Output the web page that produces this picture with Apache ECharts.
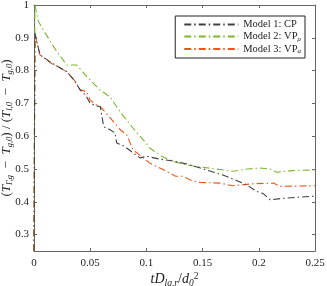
<!DOCTYPE html>
<html><head><meta charset="utf-8">
<script src="https://cdn.jsdelivr.net/npm/echarts@6/dist/echarts.min.js"></script>
<style>html,body{margin:0;padding:0;background:#fff}#c{width:327px;height:286px}</style>
</head><body><div id="c"></div>
<script>
const seriesNames = ['Model 1: CP', 'Model 2: VP', 'Model 3: VP'];
const model1 = [[0,0.25],[0.0008,0.915],[0.0053,0.848],[0.015,0.825],[0.029,0.797],[0.036,0.77],[0.041,0.741],[0.046,0.725],[0.05,0.70],[0.055,0.693],[0.059,0.69],[0.062,0.629],[0.068,0.619],[0.072,0.61],[0.0736,0.579],[0.08,0.57],[0.0943,0.534],[0.1,0.539],[0.112,0.53],[0.124,0.524],[0.136,0.515],[0.148,0.503],[0.16,0.49],[0.171,0.478],[0.18,0.465],[0.189,0.452],[0.198,0.432],[0.204,0.425],[0.21,0.406],[0.22,0.41],[0.235,0.414],[0.25,0.417]];
const model2 = [[0,0.25],[0.0008,1.0],[0.004,0.95],[0.0083,0.924],[0.018,0.87],[0.029,0.817],[0.038,0.817],[0.048,0.778],[0.0587,0.741],[0.0676,0.72],[0.0765,0.675],[0.088,0.625],[0.1,0.578],[0.103,0.564],[0.113,0.54],[0.124,0.523],[0.136,0.512],[0.148,0.506],[0.162,0.5],[0.177,0.493],[0.19,0.5],[0.201,0.503],[0.21,0.5],[0.216,0.49],[0.23,0.495],[0.248,0.497],[0.25,0.497]];
const model3 = [[0,0.25],[0.0008,0.91],[0.0053,0.848],[0.015,0.823],[0.029,0.797],[0.036,0.77],[0.041,0.742],[0.047,0.735],[0.05,0.71],[0.055,0.697],[0.059,0.69],[0.068,0.655],[0.077,0.619],[0.0825,0.604],[0.088,0.559],[0.095,0.54],[0.103,0.518],[0.118,0.493],[0.126,0.478],[0.132,0.478],[0.14,0.465],[0.148,0.459],[0.165,0.457],[0.177,0.449],[0.195,0.455],[0.213,0.457],[0.219,0.447],[0.235,0.448],[0.25,0.449]];
const xTicks = [0, 0.05, 0.1, 0.15, 0.2, 0.25];
const yTicks = [0.3, 0.4, 0.5, 0.6, 0.7, 0.8, 0.9, 1];
const colors = ['#404040', '#7cb82f', '#e8581c'];

const chart = echarts.init(document.getElementById('c'), null, {renderer:'canvas'});
const serif = 'Liberation Serif';
const fmtX = v => v === 0 ? '0' : String(+v.toFixed(2));
const fmtY = v => String(+v.toFixed(1));
const axisLineStyle = {color:'#666', width:1};
const rich = {
  i:{fontFamily:serif, fontStyle:'italic', fontSize:14, color:'#222'},
  n:{fontFamily:serif, fontSize:14, color:'#222'},
  s:{fontFamily:serif, fontStyle:'italic', fontSize:9.5, color:'#222', padding:[7,0,0,0]},
  u:{fontFamily:serif, fontSize:9.5, color:'#222', padding:[0,0,7,0]},
  yi:{fontFamily:serif, fontStyle:'italic', fontSize:13, color:'#222'},
  yn:{fontFamily:serif, fontSize:13, color:'#222'},
  ys:{fontFamily:serif, fontStyle:'italic', fontSize:8.5, color:'#222', padding:[5,0,0,0]},
  ls:{fontFamily:serif, fontStyle:'italic', fontSize:7, color:'#222', padding:[5,0,0,0]},
  ln:{fontFamily:serif, fontSize:10.5, color:'#222'}
};
const legendNames = seriesNames.map((n,i)=>n+(i===0?'':i===1?' ':'  '));
chart.setOption({
  animation:false,
  grid:{left:34, right:12, top:5, bottom:35, outerBoundsMode:'none', containLabel:false},
  legend:{
    right:22, top:16, orient:'vertical', itemWidth:54, itemHeight:8, itemGap:1,
    padding:[3,4,3,8], borderColor:'#222', borderWidth:1, backgroundColor:'#fff',
    itemStyle:{opacity:0},
    data:legendNames,
    formatter: function(name){
      if (name.indexOf('CP')>=0) return '{ln|Model 1: CP}';
      if (name === legendNames[1]) return '{ln|Model 2: VP}{ls|ρ}';
      return '{ln|Model 3: VP}{ls|a}';
    },
    textStyle:{rich:rich, fontFamily:serif}
  },
  xAxis:[{
    type:'value', min:0, max:0.25, interval:0.05,
    axisLine:{lineStyle:axisLineStyle, onZero:false},
    axisTick:{inside:true, length:3, lineStyle:axisLineStyle},
    axisLabel:{fontFamily:serif, fontSize:11, color:'#222', formatter:fmtX, margin:7},
    splitLine:{show:false},
    name:'{i|tD}{s|lq,r}{n|/}{i|d}{s|0}{u|2}',
    nameLocation:'middle', nameGap:20, nameMoveOverlap:false,
    nameTextStyle:{rich:rich}
  },{
    type:'value', position:'top', min:0, max:0.25, interval:0.05,
    axisLine:{lineStyle:axisLineStyle, onZero:false},
    axisTick:{inside:true, length:3, lineStyle:axisLineStyle},
    axisLabel:{show:false}, splitLine:{show:false}
  }],
  yAxis:[{
    type:'value', min:0.25, max:1,
    axisLine:{show:true, lineStyle:axisLineStyle, onZero:false},
    axisTick:{inside:true, length:3, lineStyle:axisLineStyle, customValues:yTicks},
    axisLabel:{fontFamily:serif, fontSize:11, color:'#222', formatter:fmtY, customValues:yTicks, margin:5},
    splitLine:{show:false},
    name:'{yn|(}{yi|T}{ys|Γ,g}{yn|  −  }{yi|T}{ys|g,0}{yn|) / (}{yi|T}{ys|l,0}{yn|  −  }{yi|T}{ys|g,0}{yn|)}',
    nameLocation:'middle', nameGap:20, nameRotate:90, nameMoveOverlap:false,
    nameTextStyle:{rich:rich}
  },{
    type:'value', position:'right', min:0.25, max:1,
    axisLine:{show:true, lineStyle:axisLineStyle, onZero:false},
    axisTick:{show:true, inside:true, length:3, lineStyle:axisLineStyle, customValues:yTicks},
    axisLabel:{show:false, customValues:yTicks}, splitLine:{show:false}
  }],
  series:[model1, model2, model3].map((d,i)=>({
    name: legendNames[i],
    type:'line', data:d, showSymbol:false, symbol:'none', clip:true,
    color:colors[i],
    lineStyle:{color:colors[i], width:1.1, type:[7,3,1.5,3]},
    z: i===0?3:2
  }))
});
</script></body></html>
